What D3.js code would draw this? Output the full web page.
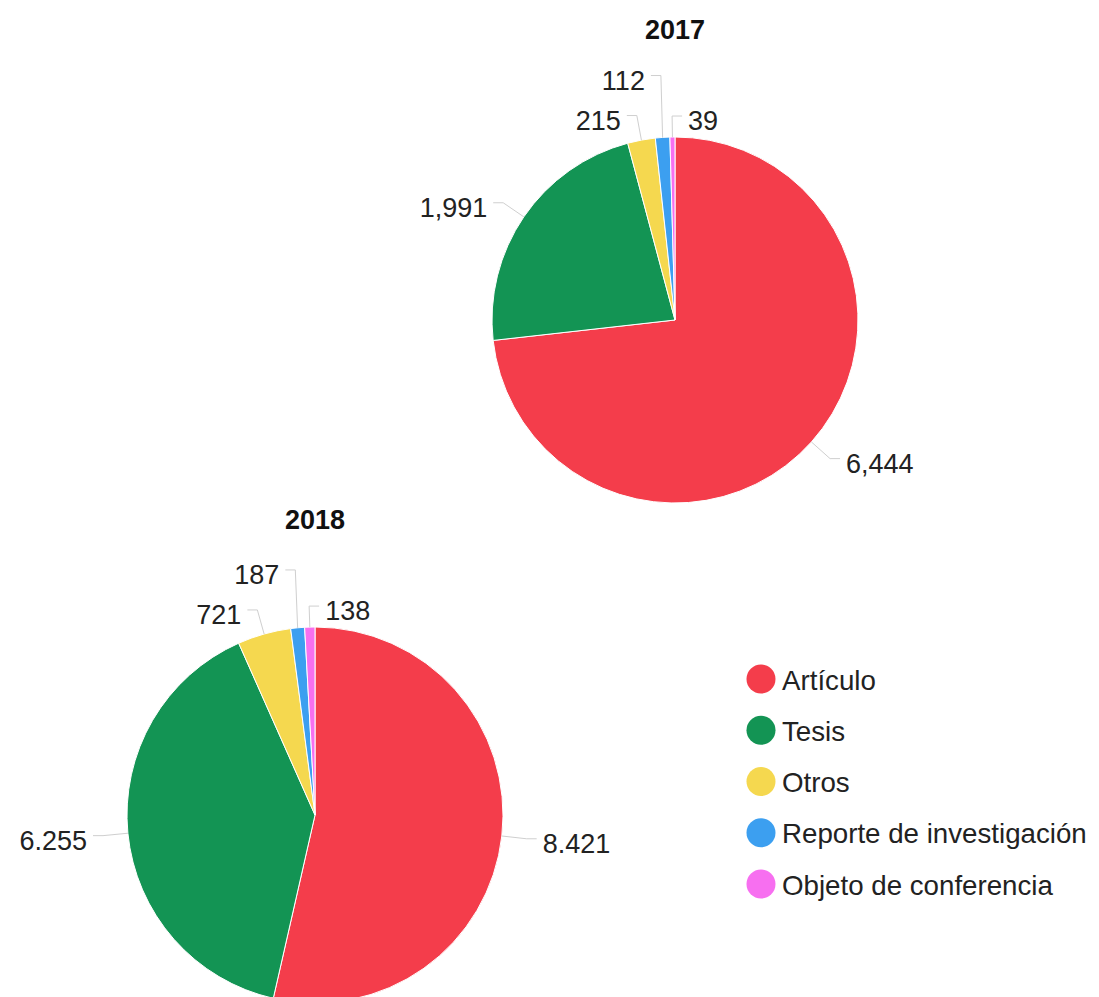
<!DOCTYPE html>
<html>
<head>
<meta charset="utf-8">
<script src="https://cdn.jsdelivr.net/npm/d3@7"></script>
<style>
  html, body { margin: 0; padding: 0; background: #fff; }
  svg { display: block; }
  text { font-family: "Liberation Sans", Arial, sans-serif; fill: #222; }
</style>
</head>
<body>
<svg id="chart" width="1099" height="997"></svg>
<script>
// ---- data ----
const categories = ["Artículo", "Tesis", "Otros", "Reporte de investigación", "Objeto de conferencia"];
const colors = ["#f43d4b", "#139454", "#f5d84f", "#3c9ff0", "#f76ff0"];
const years = ["2017", "2018"];
const values2017 = [6444, 1991, 215, 112, 39];
const values2018 = [8421, 6255, 721, 187, 138];
const thousandsSep = [",", "."];

const svg = d3.select("#chart");

const color = d3.scaleOrdinal().domain(categories).range(colors);

const charts = [
  { year: years[0], values: values2017, sep: thousandsSep[0], cx: 675, cy: 320, r: 183 },
  { year: years[1], values: values2018, sep: thousandsSep[1], cx: 315, cy: 815, r: 188 }
];

const pie = d3.pie().value(d => d.value).sort(null);

charts.forEach(c => {
  const data = categories.map((k, i) => ({ key: k, value: c.values[i] }));
  const fmt = d3.formatLocale({ decimal: c.sep === "," ? "." : ",", thousands: c.sep, grouping: [3], currency: ["", ""] }).format(",");
  const arcs = pie(data);
  const arc = d3.arc().innerRadius(0).outerRadius(c.r);
  const g = svg.append("g").attr("transform", `translate(${c.cx},${c.cy})`);

  g.selectAll("path.slice").data(arcs).join("path")
    .attr("class", "slice")
    .attr("d", arc)
    .attr("fill", d => color(d.data.key))
    .attr("stroke", "#fff")
    .attr("stroke-width", 1);

  // title
  svg.append("text")
    .attr("x", c.cx).attr("y", c.cy - c.r - 98)
    .attr("text-anchor", "middle")
    .attr("font-size", 27).attr("font-weight", "bold")
    .style("fill", "#111")
    .text(c.year);

  // label layout
  const ext = 25, spacing = 40;
  const labels = arcs.map(a => {
    const mid = (a.startAngle + a.endAngle) / 2;
    const sx = Math.sin(mid), sy = -Math.cos(mid);
    return {
      a, mid,
      x1: sx * c.r, y1: sy * c.r,
      x2: sx * (c.r + ext), y2: sy * (c.r + ext),
      side: sx >= 0 ? 1 : -1,
      text: fmt(a.data.value)
    };
  });
  // resolve left-side overlaps, bottom to top
  const left = labels.filter(l => l.side < 0).sort((p, q) => q.y2 - p.y2);
  let prevY = null, lastConflict = null;
  left.forEach(l => {
    if (prevY !== null && l.y2 > prevY - spacing) {
      l.natY = l.y2;
      l.y2 = prevY - spacing;
      lastConflict = l;
    }
    prevY = l.y2;
  });
  // topmost conflicting label moves to the right side at its natural height
  if (lastConflict && lastConflict === left[left.length - 1]) {
    lastConflict.side = 1;
    lastConflict.y2 = lastConflict.natY + 4;
  }

  const hLen = 10, gap = 6;
  g.selectAll("polyline.leader").data(labels).join("polyline")
    .attr("class", "leader")
    .attr("fill", "none")
    .attr("stroke", "#cfcfcf")
    .attr("stroke-width", 1)
    .attr("points", l => [[l.x1, l.y1], [l.x2, l.y2], [l.x2 + l.side * hLen, l.y2]].map(p => p.join(",")).join(" "));

  g.selectAll("text.lbl").data(labels).join("text")
    .attr("class", "lbl")
    .attr("x", l => l.x2 + l.side * (hLen + gap))
    .attr("y", l => l.y2 + 5)
    .attr("dominant-baseline", "central")
    .attr("text-anchor", l => l.side > 0 ? "start" : "end")
    .attr("font-size", 27)
    .text(l => l.text);
});

// legend
const legendY = d3.scalePoint().domain(categories).range([679, 884]);
const lg = svg.append("g");
const items = lg.selectAll("g").data(categories).join("g")
  .attr("transform", d => `translate(761,${legendY(d)})`);
items.append("circle").attr("r", 14.5).attr("fill", d => color(d));
items.append("text").attr("x", 21).attr("y", 1)
  .attr("dominant-baseline", "central")
  .attr("font-size", 27.7)
  .text(d => d);
</script>
</body>
</html>
